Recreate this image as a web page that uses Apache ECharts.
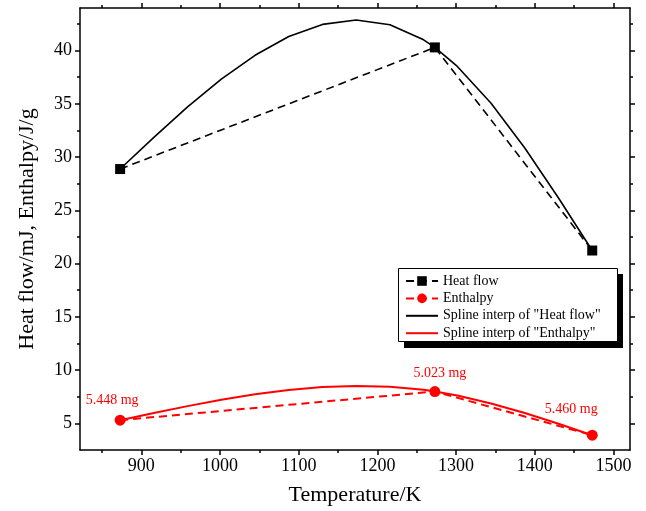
<!DOCTYPE html>
<html>
<head>
<meta charset="utf-8">
<script src="https://cdn.jsdelivr.net/npm/echarts@6/dist/echarts.min.js"></script>
<style>
  html, body { margin: 0; padding: 0; background: #ffffff; }
  #chart { width: 646px; height: 511px; }
</style>
</head>
<body>
<div id="chart"></div>
<script>
// Measured points (temperature in K)
const temperature = [873, 1273, 1473];
const heatFlow = [28.88, 40.30, 21.23];
const enthalpy = [5.30, 7.99, 3.89];
const sampleMass = ['5.448 mg', '5.023 mg', '5.460 mg'];

// Spline interpolation curves through the measured points
const splineTemp = [873, 915.86, 958.71, 1001.57, 1044.43, 1087.29, 1130.14, 1173,
                    1215.86, 1258.71, 1273, 1301.57, 1344.43, 1387.29, 1430.14, 1473];
const splineHeat = [28.88, 31.86, 34.71, 37.32, 39.56, 41.32, 42.46, 42.87,
                    42.43, 41.01, 40.30, 38.51, 35.05, 30.85, 26.16, 21.23];
const splineEnthalpy = [5.30, 5.97, 6.62, 7.22, 7.73, 8.13, 8.41, 8.52,
                        8.44, 8.15, 7.99, 7.61, 6.87, 5.97, 4.96, 3.89];

// Tick positions
const xMajorTicks = [900, 1000, 1100, 1200, 1300, 1400, 1500];
const xMinorTicks = [850, 950, 1050, 1150, 1250, 1350, 1450];
const yMajorTicks = [5, 10, 15, 20, 25, 30, 35, 40];
const yMinorTicks = [7.5, 12.5, 17.5, 22.5, 27.5, 32.5, 37.5, 42.5];

const X_MIN = 822, X_MAX = 1521;
const Y_MIN = 2.5, Y_MAX = 44;

const SERIF = '"Liberation Serif", "Times New Roman", serif';
const RED = '#ff0000';
const BLACK = '#000000';

const pairs = (xs, ys) => xs.map((x, i) => [x, ys[i]]);
const labelOffsets = [[-8, -2], [5, -1], [-21, -8]];

function frameAxis(kind, position, ticks, len, withLine, extra) {
  const base = {
    type: 'value',
    position: position,
    min: kind === 'x' ? X_MIN : Y_MIN,
    max: kind === 'x' ? X_MAX : Y_MAX,
    splitLine: { show: false },
    axisLine: { show: withLine, onZero: false, lineStyle: { color: BLACK, width: 1.5 } },
    axisTick: { show: true, inside: false, length: len, customValues: ticks,
                lineStyle: { color: BLACK, width: 1.5 } },
    axisLabel: { show: false }
  };
  return Object.assign(base, extra || {});
}

const chart = echarts.init(document.getElementById('chart'), null, { renderer: 'canvas' });

chart.setOption({
  animation: false,
  backgroundColor: '#ffffff',
  grid: { left: 80, top: 8, right: 16, bottom: 60, containLabel: false },
  // Legend frame with a solid drop shadow
  graphic: [
    { type: 'rect', z: 10, shape: { x: 404, y: 274, width: 219, height: 74 },
      style: { fill: BLACK } },
    { type: 'rect', z: 11, shape: { x: 398.5, y: 268.5, width: 219, height: 73 },
      style: { fill: '#ffffff', stroke: BLACK, lineWidth: 1 } }
  ],
  legend: {
    z: 20,
    orient: 'vertical',
    left: 398,
    top: 268,
    itemWidth: 32,
    itemHeight: 12,
    itemGap: 3.4,
    padding: [6, 15, 3, 7],
    textStyle: { fontFamily: SERIF, fontSize: 14, color: BLACK },
    data: [
      { name: 'Heat flow' },
      { name: 'Enthalpy' },
      { name: 'Spline interp of "Heat flow"', itemStyle: { opacity: 0 } },
      { name: 'Spline interp of "Enthalpy"', itemStyle: { opacity: 0 } }
    ]
  },
  xAxis: [
    frameAxis('x', 'bottom', xMajorTicks, 5, true, {
      name: 'Temperature/K',
      nameLocation: 'middle',
      nameGap: 34,
      nameTextStyle: { fontFamily: SERIF, fontSize: 22, color: BLACK },
      axisLabel: { show: true, customValues: xMajorTicks, margin: 7,
                   formatter: v => String(v),
                   fontFamily: SERIF, fontSize: 18, color: BLACK }
    }),
    frameAxis('x', 'bottom', xMinorTicks, 3, false),
    frameAxis('x', 'top', xMajorTicks, 5, true),
    frameAxis('x', 'top', xMinorTicks, 3, false)
  ],
  yAxis: [
    frameAxis('y', 'left', yMajorTicks, 5, true, {
      name: 'Heat flow/mJ, Enthalpy/J/g',
      nameLocation: 'middle',
      nameGap: 42,
      nameTextStyle: { fontFamily: SERIF, fontSize: 22, color: BLACK },
      axisLabel: { show: true, customValues: yMajorTicks, margin: 8,
                   formatter: v => String(v),
                   fontFamily: SERIF, fontSize: 18, color: BLACK }
    }),
    frameAxis('y', 'left', yMinorTicks, 3, false),
    frameAxis('y', 'right', yMajorTicks, 5, true),
    frameAxis('y', 'right', yMinorTicks, 3, false)
  ],
  series: [
    {
      name: 'Spline interp of "Heat flow"',
      type: 'line',
      data: pairs(splineTemp, splineHeat),
      symbol: 'none',
      lineStyle: { color: BLACK, width: 1.6 },
      itemStyle: { color: BLACK },
      z: 2
    },
    {
      name: 'Spline interp of "Enthalpy"',
      type: 'line',
      data: pairs(splineTemp, splineEnthalpy),
      symbol: 'none',
      lineStyle: { color: RED, width: 2 },
      itemStyle: { color: RED },
      z: 2
    },
    {
      name: 'Heat flow',
      type: 'line',
      data: pairs(temperature, heatFlow),
      symbol: 'rect',
      symbolSize: 10,
      lineStyle: { color: BLACK, width: 1.6, type: [8, 5] },
      itemStyle: { color: BLACK },
      z: 3
    },
    {
      name: 'Enthalpy',
      type: 'line',
      data: temperature.map((t, i) => ({
        value: [t, enthalpy[i]],
        label: { offset: labelOffsets[i] }
      })),
      symbol: 'circle',
      symbolSize: 11,
      lineStyle: { color: RED, width: 2, type: [8, 5] },
      itemStyle: { color: RED },
      label: {
        show: true,
        position: 'top',
        formatter: p => sampleMass[p.dataIndex],
        fontFamily: SERIF,
        fontSize: 14,
        color: RED
      },
      z: 3
    }
  ]
});
</script>
</body>
</html>
